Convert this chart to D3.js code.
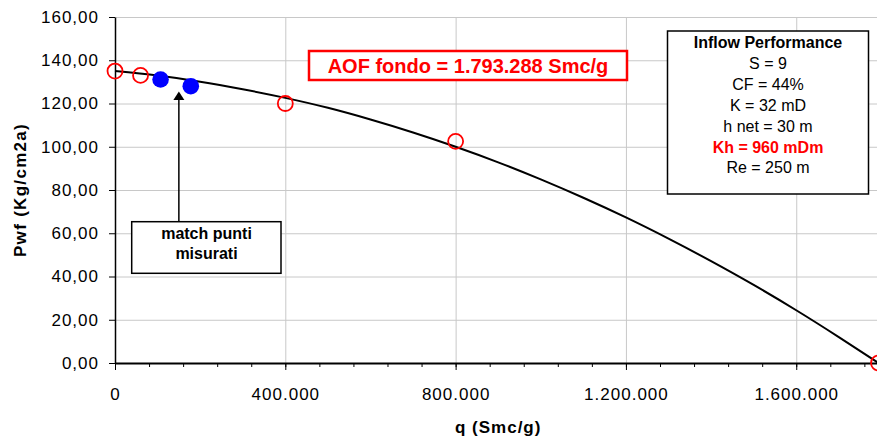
<!DOCTYPE html>
<html>
<head>
<meta charset="utf-8">
<script src="https://cdn.jsdelivr.net/npm/d3@7"></script>
<style>
  body { margin: 0; background: #fff; }
  svg { display: block; font-family: "Liberation Sans", Arial, sans-serif; }
  .grid line { stroke: #c8c8c8; stroke-width: 1; }
  .grid path { display: none; }
</style>
</head>
<body>
<div id="chart"></div>
<script>
// IPR curve
var curveQ = [0, 100000, 200000, 300000, 400000, 500000, 600000, 700000, 800000, 900000,
              1000000, 1100000, 1200000, 1300000, 1400000, 1500000, 1600000, 1700000, 1793288];
var curveP = [135.0, 132.9, 130.1, 126.6, 122.6, 118.0, 112.6, 106.6, 100.0, 92.8,
              84.9, 76.4, 67.3, 57.5, 47.1, 36.1, 24.4, 12.0, 0];
// calculated points (red open circles)
var calcQ = [0, 60000, 400000, 800000, 1793288];
var calcP = [135.0, 133.0, 120.0, 102.5, 0];
// measured points (blue)
var measQ = [107000, 178000];
var measP = [131.1, 128.0];

var xTicks = [0, 400000, 800000, 1200000, 1600000];
var yTicks = [0, 20, 40, 60, 80, 100, 120, 140, 160];

var aofLabel = "AOF fondo = 1.793.288 Smc/g";
var boxTitle = "Inflow Performance";
var boxLines = ["S = 9", "CF = 44%", "K = 32 mD", "h net = 30 m", "Kh = 960 mDm", "Re = 250 m"];
var boxRed = [false, false, false, false, true, false];
var noteLines = ["match punti", "misurati"];

(function() {
  var W = 877, H = 439;
  var left = 115, top = 17, plotBottom = 363, plotRight = 881.4;

  var it = d3.formatLocale({decimal: ",", thousands: ".", grouping: [3], currency: ["", "€"]});
  var fx = it.format(",.0f"), fy = it.format(",.2f");

  var svg = d3.select("#chart").append("svg")
      .attr("width", W).attr("height", H);

  var x = d3.scaleLinear().domain([0, 1800000]).range([left, plotRight]);
  var y = d3.scaleLinear().domain([0, 160]).range([plotBottom, top]);

  /* gridlines */
  svg.append("g").attr("class", "grid")
      .attr("transform", "translate(0," + plotBottom + ")")
      .call(d3.axisBottom(x).tickValues(xTicks.slice(1)).tickSize(-(plotBottom - top)).tickFormat(""));
  svg.append("g").attr("class", "grid")
      .attr("transform", "translate(" + left + ",0)")
      .call(d3.axisLeft(y).tickValues(yTicks.slice(1)).tickSize(-(plotRight - left)).tickFormat(""));

  /* curve */
  var line = d3.line()
      .x(function(d) { return x(d[0]); })
      .y(function(d) { return y(d[1]); })
      .curve(d3.curveMonotoneX);
  svg.append("path")
      .datum(curveQ.map(function(q, i) { return [q, curveP[i]]; }))
      .attr("d", line)
      .attr("fill", "none")
      .attr("stroke", "#000")
      .attr("stroke-width", 2);

  /* minor x ticks */
  var minor = d3.range(0, 1800001, 80000);
  svg.append("g")
      .attr("transform", "translate(0," + plotBottom + ")")
      .call(d3.axisBottom(x).tickValues(minor).tickSize(4).tickFormat(""))
      .call(function(g) { g.select(".domain").remove(); g.selectAll("line").attr("stroke", "#000"); });

  /* x axis */
  var xAxis = svg.append("g")
      .attr("transform", "translate(0," + plotBottom + ")")
      .call(d3.axisBottom(x).tickValues(xTicks).tickSize(7).tickSizeOuter(0).tickPadding(18).tickFormat(fx));
  xAxis.select(".domain").attr("stroke-width", 2);
  xAxis.selectAll("text")
      .attr("font-size", 17).attr("letter-spacing", "1px")
      .attr("font-family", "Liberation Sans, Arial, sans-serif").attr("fill", "#000");

  /* y axis */
  var yAxis = svg.append("g")
      .attr("transform", "translate(" + left + ",0)")
      .call(d3.axisLeft(y).tickValues(yTicks).tickSize(6).tickSizeOuter(0).tickPadding(10).tickFormat(fy));
  yAxis.select(".domain").attr("stroke-width", 1.5);
  yAxis.selectAll("text")
      .attr("font-size", 17).attr("letter-spacing", "1px")
      .attr("font-family", "Liberation Sans, Arial, sans-serif").attr("fill", "#000");

  /* axis titles */
  svg.append("text")
      .attr("x", (left + plotRight) / 2).attr("y", 433)
      .attr("text-anchor", "middle")
      .attr("font-size", 17).attr("font-weight", "bold").attr("letter-spacing", "1px")
      .text("q (Smc/g)");
  svg.append("text")
      .attr("transform", "translate(26," + ((top + plotBottom) / 2) + ") rotate(-90)")
      .attr("text-anchor", "middle")
      .attr("font-size", 17).attr("font-weight", "bold").attr("letter-spacing", "1.3px")
      .text("Pwf (Kg/cm2a)");

  /* points */
  svg.selectAll(".calc")
      .data(calcQ.map(function(q, i) { return [q, calcP[i]]; }))
      .enter().append("circle")
      .attr("class", "calc")
      .attr("cx", function(d) { return x(d[0]); })
      .attr("cy", function(d) { return y(d[1]); })
      .attr("r", 7.5)
      .attr("fill", "none")
      .attr("stroke", "#ff0000")
      .attr("stroke-width", 1.8);
  svg.selectAll(".meas")
      .data(measQ.map(function(q, i) { return [q, measP[i]]; }))
      .enter().append("circle")
      .attr("class", "meas")
      .attr("cx", function(d) { return x(d[0]); })
      .attr("cy", function(d) { return y(d[1]); })
      .attr("r", 8.3)
      .attr("fill", "#0000ff");

  /* AOF label */
  svg.append("rect")
      .attr("x", 309).attr("y", 51).attr("width", 318).attr("height", 29)
      .attr("fill", "#fff").attr("stroke", "#ff0000").attr("stroke-width", 2.5);
  svg.append("text")
      .attr("x", 468).attr("y", 73)
      .attr("text-anchor", "middle")
      .attr("font-size", 20).attr("font-weight", "bold").attr("fill", "#ff0000")
      .text(aofLabel);

  /* inflow box */
  svg.append("rect")
      .attr("x", 667.5).attr("y", 31).attr("width", 201).attr("height", 163)
      .attr("fill", "#fff").attr("stroke", "#000").attr("stroke-width", 1.5);
  svg.append("text")
      .attr("x", 768).attr("y", 47.5)
      .attr("text-anchor", "middle")
      .attr("font-size", 16).attr("font-weight", "bold")
      .text(boxTitle);
  svg.selectAll(".boxline")
      .data(boxLines)
      .enter().append("text")
      .attr("class", "boxline")
      .attr("x", 768)
      .attr("y", function(d, i) { return 69.3 + i * 20.8; })
      .attr("text-anchor", "middle")
      .attr("font-size", 16)
      .attr("font-weight", function(d, i) { return boxRed[i] ? "bold" : "normal"; })
      .attr("fill", function(d, i) { return boxRed[i] ? "#ff0000" : "#000"; })
      .text(function(d) { return d; });

  /* note box with arrow */
  var ax = x(150000);
  svg.append("line")
      .attr("x1", ax).attr("x2", ax).attr("y1", 221.7).attr("y2", 99)
      .attr("stroke", "#000").attr("stroke-width", 1.5);
  svg.append("path")
      .attr("d", "M" + ax + ",91.5 L" + (ax - 5.5) + ",100 L" + (ax + 5.5) + ",100 Z")
      .attr("fill", "#000");
  svg.append("rect")
      .attr("x", 131.7).attr("y", 221.7).attr("width", 149.3).attr("height", 51.6)
      .attr("fill", "#fff").attr("stroke", "#000").attr("stroke-width", 1.5);
  svg.selectAll(".note")
      .data(noteLines)
      .enter().append("text")
      .attr("class", "note")
      .attr("x", 206.5)
      .attr("y", function(d, i) { return 238.5 + i * 20; })
      .attr("text-anchor", "middle")
      .attr("font-size", 16).attr("font-weight", "bold")
      .text(function(d) { return d; });
})();
</script>
</body>
</html>
